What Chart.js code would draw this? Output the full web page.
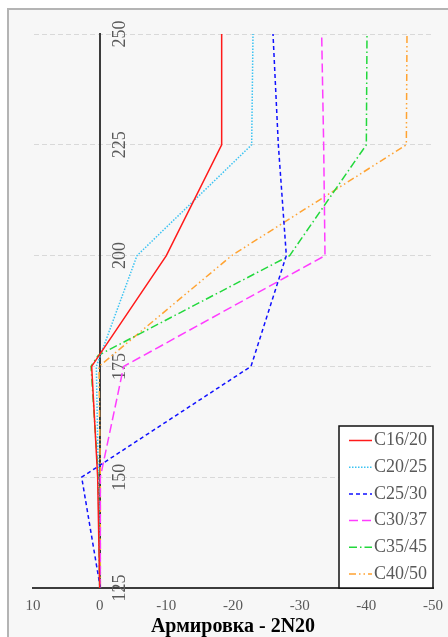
<!DOCTYPE html>
<html>
<head>
<meta charset="utf-8">
<script src="https://cdn.jsdelivr.net/npm/chart.js@4"></script>
<style>
  body { margin: 0; background: #fff; overflow: hidden; }
  #frame { position: absolute; left: 7px; top: 8px; width: 460px; height: 660px;
           border: 2px solid #b4b4b4; background: #f7f7f7; }
  #chart { position: absolute; left: 0; top: 0; }
</style>
</head>
<body>
<div id="frame"></div>
<canvas id="chart" width="448" height="637"></canvas>
<script>
// depth levels (y axis)
const depths = [125, 150, 175, 200, 225, 250];
const depthsC35 = [125, 150, 175, 177.5, 200, 225, 250];

// values per concrete class
const c16 = [0, 0.3, 1.2, -10, -18.3, -18.3];
const c20 = [0, 0.2, 0.5, -5.6, -22.8, -23.0];
const c25 = [-0.1, 2.7, -22.7, -28, -26.8, -26];
const c30 = [-0.1, -0.1, -3.6, -33.8, -33.6, -33.3];
const c35 = [0, 0.2, 1.3, 0.2, -28.5, -40, -40.1];
const c40 = [-0.1, -0.1, 0.1, -19.8, -46, -46.1];

const xTicks = [10, 0, -10, -20, -30, -40, -50];
const yTicks = [125, 150, 175, 200, 225, 250];

const SERIF = '"Liberation Serif", "Times New Roman", serif';

const pts = (ys, xs) => ys.map((y, i) => ({ x: xs[i], y: y }));

const series = [
    { label: 'C16/20', data: pts(depths, c16), borderColor: '#ff1a1a', borderDash: [] },
    { label: 'C20/25', data: pts(depths, c20), borderColor: '#3cc3f2', borderDash: [1.5, 1.5] },
    { label: 'C25/30', data: pts(depths, c25), borderColor: '#1010ff', borderDash: [4, 3] },
    { label: 'C30/37', data: pts(depths, c30), borderColor: '#ff3cff', borderDash: [9, 4] },
    { label: 'C35/45', data: pts(depthsC35, c35), borderColor: '#22d83c', borderDash: [8, 3, 1.5, 3] },
    { label: 'C40/50', data: pts(depths, c40), borderColor: '#ffa332', borderDash: [7, 3, 1.5, 3, 1.5, 3] }
];

// put the y axis on x = 0
const axisAtZero = {
    id: 'axisAtZero',
    afterLayout(chart) {
        const px = chart.scales.x.getPixelForValue(0);
        chart.scales.y.left = px;
        chart.scales.y.right = px;
    }
};

// legend box inside the plot, bottom right
const boxLegend = {
    id: 'boxLegend',
    afterDraw(chart) {
        const ctx = chart.ctx;
        const area = chart.chartArea;
        const w = 94, rowH = 26.7;
        const h = 162;
        const left = area.right - w, top = area.bottom - h;
        ctx.save();
        ctx.fillStyle = '#ffffff';
        ctx.fillRect(left, top, w, h);
        ctx.lineWidth = 1.5;
        ctx.strokeStyle = '#111';
        ctx.strokeRect(left, top, w, h);
        ctx.font = '18px ' + SERIF;
        ctx.textBaseline = 'middle';
        chart.data.datasets.forEach((ds, i) => {
            const y = top + 14.5 + i * rowH;
            ctx.strokeStyle = ds.borderColor;
            ctx.lineWidth = 1.5;
            ctx.setLineDash(ds.borderDash);
            ctx.beginPath();
            ctx.moveTo(left + 10, y);
            ctx.lineTo(left + 33, y);
            ctx.stroke();
            ctx.setLineDash([]);
            ctx.fillStyle = '#595959';
            ctx.fillText(ds.label, left + 35, y);
        });
        ctx.restore();
    }
};

new Chart(document.getElementById('chart'), {
    type: 'line',
    data: {
        datasets: series.map(s => ({
            label: s.label,
            data: s.data,
            borderColor: s.borderColor,
            borderDash: s.borderDash,
            borderWidth: 1.5,
            pointRadius: 0,
            tension: 0,
            fill: false
        }))
    },
    options: {
        responsive: false,
        animation: false,
        layout: { padding: { left: 33, right: 15, top: 34, bottom: 0 } },
        plugins: {
            legend: { display: false },
            tooltip: { enabled: false }
        },
        scales: {
            x: {
                type: 'linear',
                position: 'bottom',
                min: -50,
                max: 10,
                reverse: true,
                afterBuildTicks: s => { s.ticks = xTicks.map(v => ({ value: v })); },
                afterFit: s => {
                    s.height = 49;
                    s.paddingLeft = 0;
                    s.paddingRight = 0;
                },
                ticks: { color: '#595959', padding: 9, font: { family: SERIF, size: 15 } },
                grid: { color: 'rgba(0,0,0,0)', drawTicks: false },
                border: { display: true, color: '#3c3c3c', width: 2 },
                title: {
                    display: true,
                    text: 'Армировка - 2N20',
                    color: '#000',
                    padding: 0,
                    font: { family: SERIF, size: 20, weight: 'bold', lineHeight: 1 }
                }
            },
            y: {
                type: 'linear',
                position: 'left',
                min: 125,
                max: 250,
                afterBuildTicks: s => { s.ticks = yTicks.map(v => ({ value: v })); },
                afterFit: s => { s.width = 0; },
                ticks: {
                    color: '#595959',
                    mirror: true,
                    crossAlign: 'center',
                    minRotation: 90,
                    maxRotation: 90,
                    padding: 7.5,
                    font: { family: SERIF, size: 18 }
                },
                grid: { color: '#d9d9d9', lineWidth: 1, drawTicks: false },
                border: { display: true, color: '#3c3c3c', width: 2, dash: [5, 3] }
            }
        }
    },
    plugins: [axisAtZero, boxLegend]
});
</script>
</body>
</html>
